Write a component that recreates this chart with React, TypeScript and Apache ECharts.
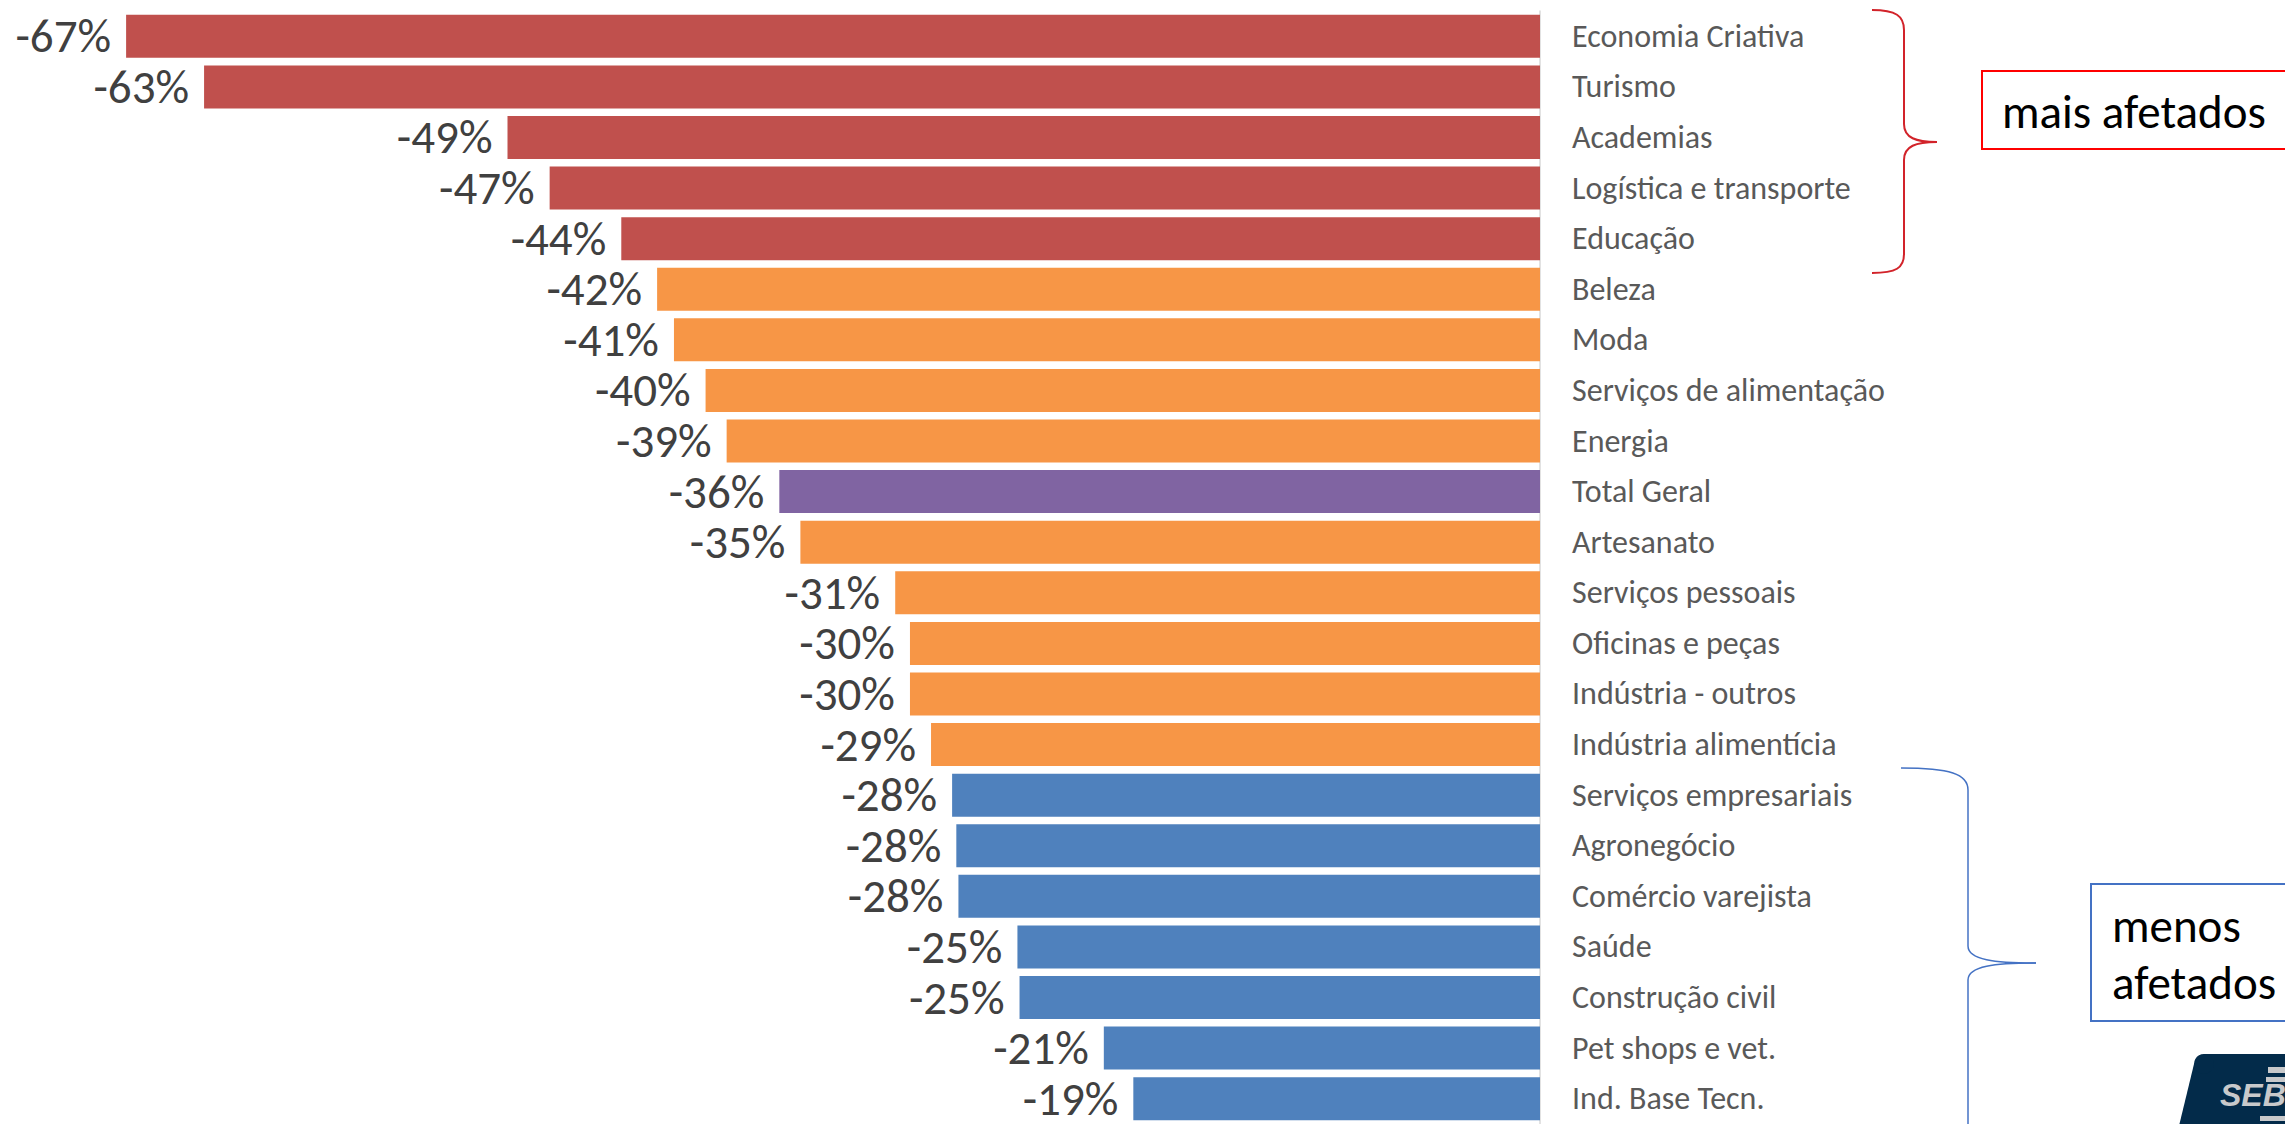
import React, { useEffect, useRef } from "react";
import * as echarts from "echarts";

const categories = [
  "Economia Criativa",
  "Turismo",
  "Academias",
  "Logística e transporte",
  "Educação",
  "Beleza",
  "Moda",
  "Serviços de alimentação",
  "Energia",
  "Total Geral",
  "Artesanato",
  "Serviços pessoais",
  "Oficinas e peças",
  "Indústria - outros",
  "Indústria alimentícia",
  "Serviços empresariais",
  "Agronegócio",
  "Comércio varejista",
  "Saúde",
  "Construção civil",
  "Pet shops e vet.",
  "Ind. Base Tecn.",
];

const values = [
  -67.1, -63.4, -49.0, -47.0, -43.6, -41.9, -41.1, -39.6, -38.6, -36.1, -35.1,
  -30.6, -29.9, -29.9, -28.9, -27.9, -27.7, -27.6, -24.8, -24.7, -20.7, -19.3,
];

const groups = [
  "high", "high", "high", "high", "high",
  "mid", "mid", "mid", "mid",
  "total",
  "mid", "mid", "mid", "mid", "mid",
  "low", "low", "low", "low", "low", "low", "low",
];

const groupColors: Record<string, string> = {
  high: "#C0504D",
  mid: "#F79646",
  total: "#8064A2",
  low: "#4F81BD",
};

const topNote = "mais afetados";
const bottomNote = ["menos", "afetados"];
const logoText = "SEBRAE";

const FONT = "Carlito, Calibri, 'Liberation Sans Narrow', 'Arial Narrow', sans-serif";

export default function App() {
  const ref = useRef<HTMLDivElement>(null);

  useEffect(() => {
    if (!ref.current) return;
    const chart = echarts.init(ref.current, undefined, { renderer: "svg" });

    const red = "#D2232A";
    const blue = "#4472C4";

    const option: any = {
      animation: false,
      backgroundColor: "#ffffff",
      textStyle: { fontFamily: FONT },
      grid: { left: 65, right: 745, top: 11, height: 1119, containLabel: false },
      xAxis: {
        type: "value",
        min: -70,
        max: 0,
        show: false,
      },
      yAxis: {
        type: "category",
        data: categories,
        inverse: true,
        position: "right",
        axisLine: { show: true, lineStyle: { color: "#D9D9D9", width: 1.5 } },
        axisTick: { show: false },
        splitLine: { show: false },
        axisLabel: {
          margin: 32,
          fontSize: 32,
          lineHeight: 36,
          color: "#595959",
          fontFamily: FONT,
        },
      },
      series: [
        {
          type: "bar",
          barCategoryGap: "15%",
          data: values.map((v, i) => ({
            value: v,
            itemStyle: { color: groupColors[groups[i]] },
          })),
          label: {
            show: true,
            position: "left",
            distance: 15,
            fontSize: 47,
            lineHeight: 40,
            color: "#404040",
            fontFamily: FONT,
            formatter: (p: any) => Math.round(p.value) + "%",
          },
        },
      ],
      graphic: [
        // red brace
        { type: "bezierCurve", shape: { x1: 1872, y1: 10, cpx1: 1896, cpy1: 10, cpx2: 1904, cpy2: 16, x2: 1904, y2: 30 }, style: { stroke: red, lineWidth: 2, fill: "none" } },
        { type: "line", shape: { x1: 1904, y1: 30, x2: 1904, y2: 124 }, style: { stroke: red, lineWidth: 2 } },
        { type: "bezierCurve", shape: { x1: 1904, y1: 124, cpx1: 1904, cpy1: 138, cpx2: 1916, cpy2: 142, x2: 1937, y2: 142 }, style: { stroke: red, lineWidth: 2, fill: "none" } },
        { type: "bezierCurve", shape: { x1: 1937, y1: 142, cpx1: 1916, cpy1: 142, cpx2: 1904, cpy2: 146, x2: 1904, y2: 160 }, style: { stroke: red, lineWidth: 2, fill: "none" } },
        { type: "line", shape: { x1: 1904, y1: 160, x2: 1904, y2: 254 }, style: { stroke: red, lineWidth: 2 } },
        { type: "bezierCurve", shape: { x1: 1904, y1: 254, cpx1: 1904, cpy1: 268, cpx2: 1896, cpy2: 273, x2: 1872, y2: 273 }, style: { stroke: red, lineWidth: 2, fill: "none" } },
        // red box
        { type: "rect", shape: { x: 1982, y: 71, width: 400, height: 78 }, style: { fill: "#ffffff", stroke: "#FF0000", lineWidth: 2 } },
        { type: "text", x: 2002, y: 112, style: { text: topNote, fontSize: 47, fontFamily: FONT, fill: "#000000", verticalAlign: "middle" } },
        // blue brace
        { type: "bezierCurve", shape: { x1: 1901, y1: 768, cpx1: 1950, cpy1: 768, cpx2: 1968, cpy2: 774, x2: 1968, y2: 790 }, style: { stroke: blue, lineWidth: 1.5, fill: "none" } },
        { type: "line", shape: { x1: 1968, y1: 790, x2: 1968, y2: 946 }, style: { stroke: blue, lineWidth: 1.5 } },
        { type: "bezierCurve", shape: { x1: 1968, y1: 946, cpx1: 1968, cpy1: 960, cpx2: 1995, cpy2: 963, x2: 2036, y2: 963 }, style: { stroke: blue, lineWidth: 1.5, fill: "none" } },
        { type: "bezierCurve", shape: { x1: 2036, y1: 963, cpx1: 1995, cpy1: 963, cpx2: 1968, cpy2: 966, x2: 1968, y2: 980 }, style: { stroke: blue, lineWidth: 1.5, fill: "none" } },
        { type: "line", shape: { x1: 1968, y1: 980, x2: 1968, y2: 1140 }, style: { stroke: blue, lineWidth: 1.5 } },
        // blue box
        { type: "rect", shape: { x: 2091, y: 884, width: 300, height: 137 }, style: { fill: "#ffffff", stroke: blue, lineWidth: 2 } },
        { type: "text", x: 2112, y: 926, style: { text: bottomNote[0], fontSize: 47, fontFamily: FONT, fill: "#000000", verticalAlign: "middle" } },
        { type: "text", x: 2112, y: 983, style: { text: bottomNote[1], fontSize: 47, fontFamily: FONT, fill: "#000000", verticalAlign: "middle" } },
        // logo
        { type: "polygon", shape: { points: [[2204, 1054], [2300, 1054], [2300, 1130], [2178, 1130], [2194, 1064]] }, style: { fill: "#032B4A" } },
        { type: "circle", shape: { cx: 2204, cy: 1064, r: 10 }, style: { fill: "#032B4A" } },
        { type: "rect", shape: { x: 2268, y: 1067, width: 30, height: 6 }, style: { fill: "#C8C9CB" } },
        { type: "rect", shape: { x: 2266, y: 1077, width: 30, height: 5 }, style: { fill: "#C8C9CB" } },
        { type: "rect", shape: { x: 2260, y: 1116, width: 30, height: 5 }, style: { fill: "#C8C9CB" } },
        { type: "text", x: 2220, y: 1111, style: { text: logoText, fontSize: 32, fontWeight: "bold", fontStyle: "italic", fontFamily: "'Liberation Sans', Arial, sans-serif", fill: "#C8C9CB", verticalAlign: "bottom" } },
      ],
    };

    chart.setOption(option);
    return () => chart.dispose();
  }, []);

  return (
    <div
      ref={ref}
      style={{ position: "absolute", left: 0, top: 0, width: 2285, height: 1124, background: "#fff", overflow: "hidden" }}
    />
  );
}
